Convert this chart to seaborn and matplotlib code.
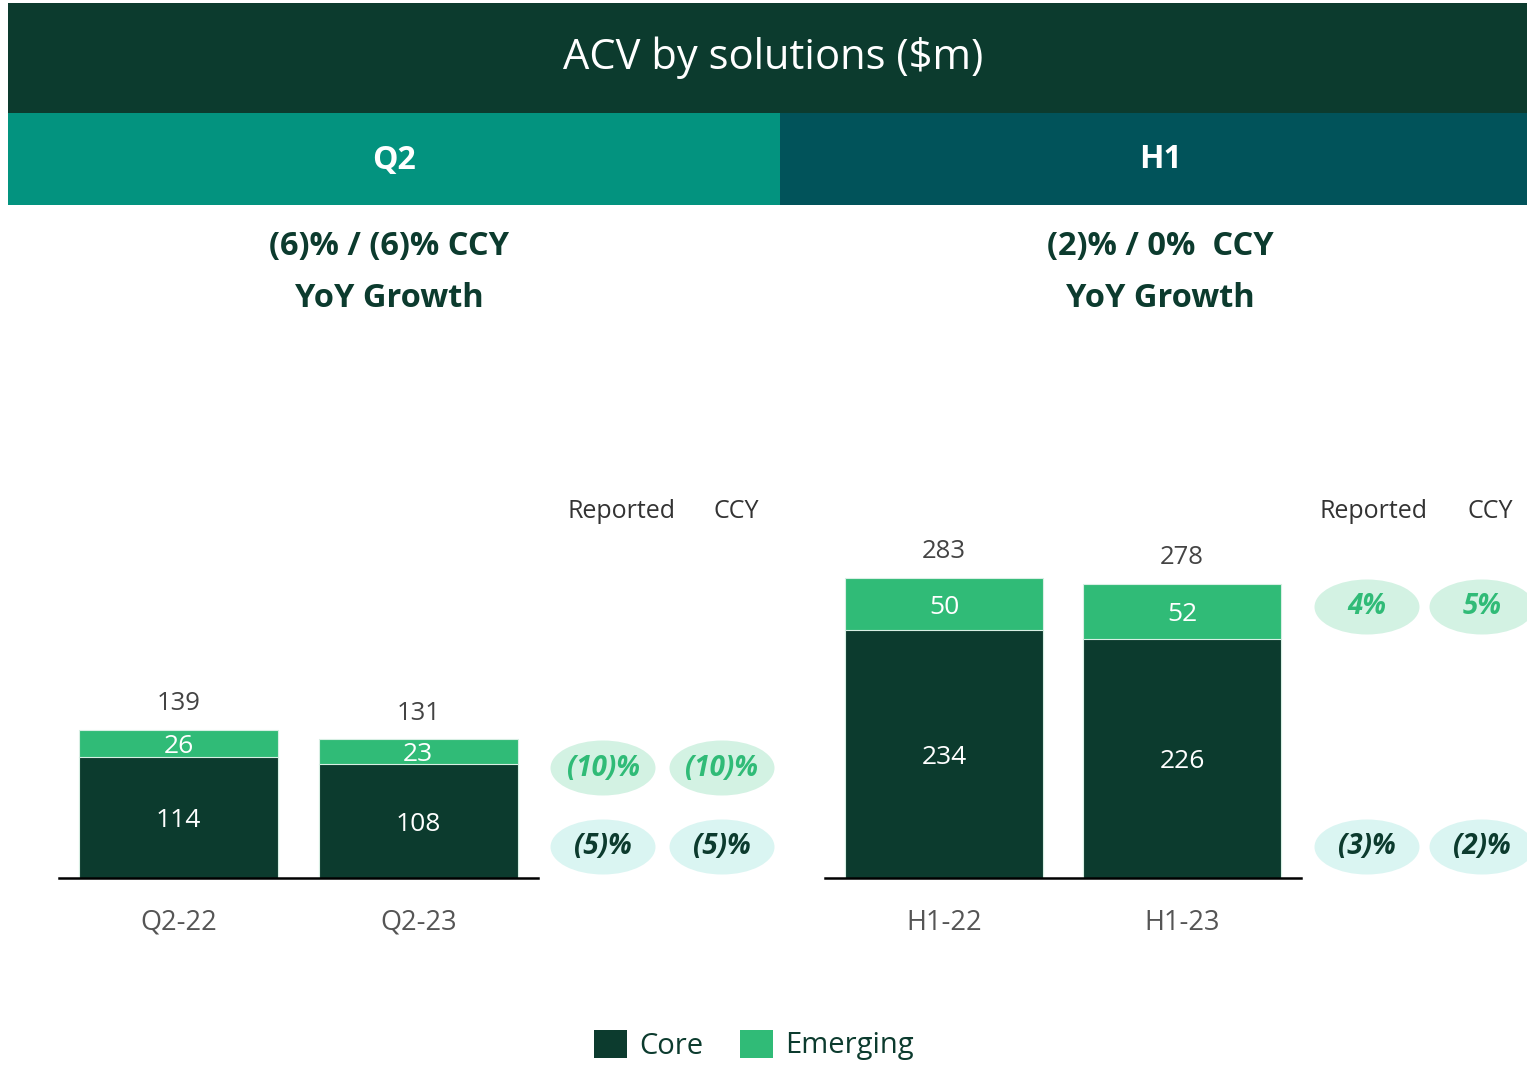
import matplotlib
matplotlib.use("Agg")
import matplotlib.pyplot as plt
from matplotlib.patches import Rectangle, Ellipse
import seaborn as sns
import pandas as pd

# ---------------- data ----------------
q2_periods = ["Q2-22", "Q2-23"]
q2_core = [114, 108]
q2_emerging = [26, 23]
q2_total = [139, 131]

h1_periods = ["H1-22", "H1-23"]
h1_core = [234, 226]
h1_emerging = [50, 52]
h1_total = [283, 278]

q2_growth = ["(6)% / (6)% CCY", "YoY Growth"]
h1_growth = ["(2)% / 0%  CCY", "YoY Growth"]

pill_headers = ["Reported", "CCY"]
q2_emerging_growth = ["(10)%", "(10)%"]
q2_core_growth = ["(5)%", "(5)%"]
h1_emerging_growth = ["4%", "5%"]
h1_core_growth = ["(3)%", "(2)%"]

title = "ACV by solutions ($m)"
sections = ["Q2", "H1"]
legend_labels = ["Core", "Emerging"]

# ---------------- style ----------------
DARK = "#0C3B2E"
GREEN = "#30BB77"
TEAL = "#03937F"
PETROL = "#01535A"
PILL_G = "#D3F2E3"
PILL_C = "#DAF5F2"
GREY = "#444444"

sns.set_theme(style="white")
plt.rcParams["font.family"] = ["Open Sans", "DejaVu Sans"]

W, H = 1527, 1065
fig = plt.figure(figsize=(W / 100, H / 100), dpi=100)
fig.patch.set_facecolor("white")


def fx(px):
    return px / W


def fy(py):
    return 1 - py / H


# header bands
fig.add_artist(Rectangle((fx(8), fy(113)), fx(1519), 110 / H, transform=fig.transFigure,
                         facecolor=DARK, edgecolor="none", zorder=0))
fig.add_artist(Rectangle((fx(8), fy(205)), fx(772), 92 / H, transform=fig.transFigure,
                         facecolor=TEAL, edgecolor="none", zorder=0))
fig.add_artist(Rectangle((fx(780), fy(205)), fx(747), 92 / H, transform=fig.transFigure,
                         facecolor=PETROL, edgecolor="none", zorder=0))
fig.text(fx(773), fy(58), title, color="white", fontsize=30, ha="center", va="center")
fig.text(fx(394), fy(160), sections[0], color="white", fontsize=23, fontweight="bold",
         ha="center", va="center")
fig.text(fx(1160), fy(160), sections[1], color="white", fontsize=23, fontweight="bold",
         ha="center", va="center")

for cx, lines in [(389, q2_growth), (1160, h1_growth)]:
    fig.text(fx(cx), fy(246), lines[0], color=DARK, fontsize=23.5, fontweight="bold",
             ha="center", va="center")
    fig.text(fx(cx), fy(299), lines[1], color=DARK, fontsize=23.5, fontweight="bold",
             ha="center", va="center")

# bar axes
PX_PER_UNIT = 1.058
top_px = 440
ymax = (878 - top_px) / PX_PER_UNIT


def draw(ax_rect, periods, core, emerging, total):
    ax = fig.add_axes(ax_rect)
    df = pd.DataFrame({"period": periods, "core": core, "emerging": emerging,
                       "stack": [c + e for c, e in zip(core, emerging)], "total": total})
    sns.barplot(data=df, x="period", y="stack", color=GREEN, width=0.83, ax=ax,
                edgecolor="#d8efe4", linewidth=0.8, saturation=1)
    sns.barplot(data=df, x="period", y="core", color=DARK, width=0.83, ax=ax,
                edgecolor="#d8efe4", linewidth=0.8, saturation=1)
    top_c, core_c = ax.containers[0], ax.containers[1]
    ax.bar_label(top_c, labels=[str(t) for t in total], padding=10, fontsize=18.5, color=GREY)
    for bar, c, e in zip(top_c, core, emerging):
        x = bar.get_x() + bar.get_width() / 2
        ax.text(x, c + e / 2 - 3, str(e), ha="center", va="center", color="white", fontsize=19)
    for bar, c in zip(core_c, core):
        x = bar.get_x() + bar.get_width() / 2
        ax.text(x, c / 2 - 3, str(c), ha="center", va="center", color="white", fontsize=19)
    ax.set_xlim(-0.5, 1.5)
    ax.set_ylim(0, ymax)
    ax.set_xlabel("")
    ax.set_ylabel("")
    ax.set_yticks([])
    for s in ["top", "right", "left"]:
        ax.spines[s].set_visible(False)
    ax.spines["bottom"].set_color("black")
    ax.spines["bottom"].set_linewidth(1.8)
    ax.tick_params(axis="x", length=0, pad=22, labelsize=19.5, labelcolor="#555555")
    ax.patch.set_alpha(0)
    return ax


bottom = (H - 878) / H
height = (878 - top_px) / H
draw([fx(59), bottom, fx(479), height], q2_periods, q2_core, q2_emerging, q2_total)
draw([fx(825), bottom, fx(476), height], h1_periods, h1_core, h1_emerging, h1_total)


# pills
def pill(cx, cy, text, fill, tcolor):
    fig.add_artist(Ellipse((fx(cx), fy(cy)), 105 / W, 55 / H, transform=fig.transFigure,
                           facecolor=fill, edgecolor="none", zorder=1))
    fig.text(fx(cx), fy(cy), text, ha="center", va="center", color=tcolor, fontsize=20,
             fontweight="bold", fontstyle="italic", zorder=2)


for xs, hx, ys, eg, cg in [((603, 722), (621, 736), (768, 847), q2_emerging_growth, q2_core_growth),
                           ((1367, 1482), (1373, 1490), (607, 847), h1_emerging_growth, h1_core_growth)]:
    for i in range(2):
        fig.text(fx(hx[i]), fy(512), pill_headers[i], ha="center", va="center",
                 color="#333333", fontsize=18)
        pill(xs[i], ys[0], eg[i], PILL_G, GREEN)
        pill(xs[i], ys[1], cg[i], PILL_C, DARK)

# legend
for (x0, lab, col) in [(594, legend_labels[0], DARK), (740, legend_labels[1], GREEN)]:
    fig.add_artist(Rectangle((fx(x0), fy(1058)), 33 / W, 28 / H, transform=fig.transFigure,
                             facecolor=col, edgecolor="none"))
    fig.text(fx(x0 + 45), fy(1046), lab, ha="left", va="center", color=DARK, fontsize=21)

fig.savefig("out.png", dpi=100)
